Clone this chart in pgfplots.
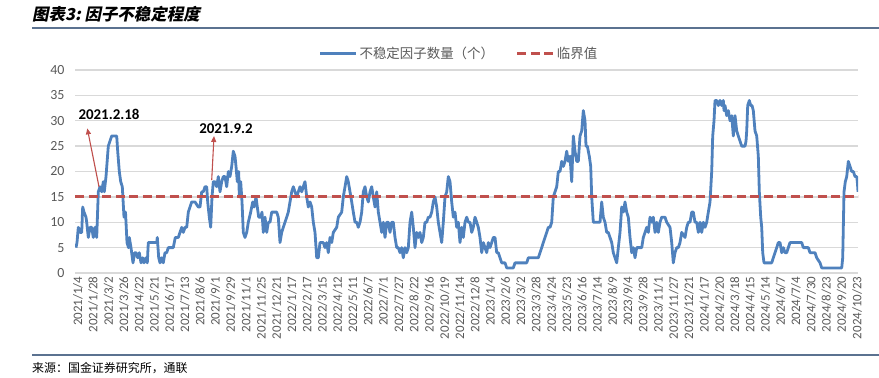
\documentclass[border=0pt]{standalone}
\usepackage{pgfplots}
\pgfplotsset{compat=1.18}
\usetikzlibrary{arrows.meta}
\usepackage{fontspec}
\setmainfont{Carlito}
\newfontfamily\cjk{Noto Sans CJK SC}
\newfontfamily\cjktitle{Noto Sans CJK SC}[FakeSlant=0.2]
\definecolor{lineblue}{HTML}{4F81BD}
\definecolor{linered}{HTML}{C0504D}
\definecolor{gridgrey}{HTML}{D9D9D9}
\definecolor{ticktext}{HTML}{595959}
\definecolor{rulecol}{HTML}{5B7290}
\begin{document}
\begin{tikzpicture}[x=1bp,y=1bp]
\path[use as bounding box] (0,0) rectangle (879,377);
\node[anchor=west, inner sep=0] at (32,363) {\cjktitle\bfseries\fontsize{16.5}{16.5}\selectfont 图表3:\ 因子不稳定程度};
\draw[rulecol, line width=1.3bp] (32,349) -- (879,349);
\draw[rulecol, line width=1.3bp] (32,22) -- (879,22);
\node[anchor=west, inner sep=0] at (32,9) {\cjk\fontsize{12}{12}\selectfont 来源：国金证券研究所，通联};
\begin{axis}[
  at={(75bp,104bp)}, anchor=south west,
  scale only axis, width=783bp, height=203bp,
  xmin=75, xmax=858, ymin=0, ymax=40,
  ytick={0,5,...,40},
  xtick={76,91.275,...,856},
  xticklabels={2021/1/4,2021/1/28,2021/3/2,2021/3/26,2021/4/22,2021/5/21,2021/6/17,2021/7/13,2021/8/6,2021/9/1,2021/9/29,2021/11/1,2021/11/25,2021/12/21,2022/1/17,2022/2/17,2022/3/15,2022/4/12,2022/5/11,2022/6/7,2022/7/1,2022/7/27,2022/8/22,2022/9/16,2022/10/19,2022/11/14,2022/12/8,2023/1/4,2023/2/6,2023/3/2,2023/3/28,2023/4/24,2023/5/23,2023/6/16,2023/7/14,2023/8/9,2023/9/4,2023/9/28,2023/11/1,2023/11/27,2023/12/21,2024/1/17,2024/2/20,2024/3/18,2024/4/15,2024/5/14,2024/6/7,2024/7/4,2024/7/30,2024/8/23,2024/9/20,2024/10/23},
  x tick label style={rotate=90, anchor=east, font=\fontsize{13}{13}\selectfont, text=ticktext, yshift=-2bp},
  y tick label style={font=\fontsize{14}{14}\selectfont, text=ticktext, xshift=-7bp},
  /pgf/number format/assume math mode=true,
  ymajorgrids, grid style={gridgrey, line width=1.3bp},
  axis line style={draw=none},
  tick style={draw=none},
  major tick length=0pt,
  legend columns=2,
  legend style={at={(0.4904,1)}, anchor=south, yshift=8bp, draw=none, fill=none, inner sep=0pt,
    font=\cjk\fontsize{13.5}{13.5}\selectfont, text=ticktext,
    /tikz/every even column/.append style={column sep=20bp}},
  legend image code/.code={\draw[#1] (0bp,0bp) -- (36bp,0bp);},
]
\addplot[lineblue, line width=2.8bp, line join=round] coordinates {
(76,5) (77,6) (78.3,9) (80,8) (81.7,8) (82.7,13) (84,12) (86,11) (86.7,10) (88.3,7) (90,9) (91.7,9) (93.3,7) (95,9) (96,8) (96.7,7) (98.3,16) (100,17) (101.7,16) (103.3,18) (104.3,16) (106,19) (108.3,25) (110,26) (111.7,27) (116.7,27) (117.7,24) (119.3,20) (120.7,18) (122.3,17) (124,11) (125.5,12) (127,6) (128.5,5) (129.3,7) (131,5) (133,2) (134.7,4) (136,4) (137.7,3) (139.3,4) (141,2) (142.7,3) (144,2) (146,3) (147.3,2) (148.3,6) (150,6) (153.3,6) (156.7,6) (157.3,7) (158.7,3) (160,2) (161.7,3) (163.3,2) (165,4) (166.7,4) (168.3,5) (170,5) (171.7,5) (173.3,5) (175.3,7) (178.3,7) (180,8) (181.7,9) (183.3,8) (185,9) (186.7,9) (188.3,12) (190,13) (191.7,14) (195,14) (198.3,13) (200,13) (201.7,16) (203.3,16) (205,17) (206.7,17) (207.7,14) (209.3,11) (210.7,9) (212,15) (213.3,18) (215,18) (216.7,17) (218.3,19) (220,16) (221.7,18) (223.3,19) (225,19) (226.7,17) (228.3,20) (230,19) (231.7,21) (233.3,24)
(235,23) (236,21) (237.3,18) (238.7,20) (239.3,15) (240.7,18) (242,14) (243.3,8) (245,7) (246.7,8) (248.3,10) (250.7,12) (252.7,14) (254,13) (256,15) (257.3,13) (258.7,11) (260.7,11) (262,12) (263.3,8) (265,11) (266.7,8) (268.3,10) (270,10) (271.7,12) (273.3,12) (276.7,12) (278.3,11) (280,6) (281.7,8) (283.3,9) (285,10) (286.7,11) (288.3,12) (290,14) (291.7,16) (293.3,17) (295,16) (296.7,15) (298.3,16) (300,17) (301.7,16) (303.3,17) (305,18) (306.7,15) (308.3,13) (310,14) (311.7,13) (313.3,10) (315,8) (316.7,3) (318.3,3) (320,6) (323.3,6) (325,5) (326.7,6) (328.3,4) (330,7) (331.7,6) (333.3,8) (336.7,9) (338.3,11) (341.7,12) (343.3,15) (345,17) (346.7,19) (348.3,18) (350,16) (351.7,14) (353.3,12) (355,10) (356.7,10) (358.3,9) (360,10) (361.7,12) (363.3,16) (365,17) (366.7,15) (368.3,14) (370,16) (371.7,17) (373.3,15) (375,13) (376.7,16) (378.3,12) (380,10) (381.7,8) (383.3,10) (385,7) (386.7,10) (388.3,10) (390,8) (391.7,10) (393.3,10)
(395,7) (396.7,5) (398.3,5) (400,4) (401.7,5) (403.3,3) (405,5) (406.7,4) (408.3,5) (410,10) (411.7,12) (413.3,9) (415,5) (416.7,8) (418.3,7) (420,8) (421.7,6) (423.3,7) (425,10) (426.7,10) (428.3,11) (430,11) (431.7,12) (433.3,14) (435,15) (436.7,13) (438.3,10) (440,8) (441.7,6) (443.3,10) (445,15) (446.7,16) (448.3,19) (450,18) (451.7,14) (453.3,11) (455,12) (456.7,9) (458.3,10) (460,6) (461.7,9) (463.3,7) (465,10) (466.7,11) (468.3,10) (470,10) (471.7,8) (473.3,9) (475,11) (476.7,10) (478.3,9) (480,7) (481.7,4) (483.3,6) (485,5) (486.7,4) (488.3,6) (490,5) (491.7,6) (493.3,7) (495,7) (496.7,4) (498.3,4) (500,3) (501.7,2) (505,2) (506.7,1) (513.3,1) (515,2) (526.7,2) (528.3,3) (538.3,3) (540,4) (541.7,5) (543.3,6) (545,7) (546.7,8) (548.3,9) (550,9) (551.7,10) (553.3,15)
(555,16) (556.7,17) (558.3,20) (560,20) (561.7,22) (563.3,21) (565,22) (566.7,24) (568.3,22) (570,23) (571.7,18) (573.3,27) (575,24) (576.7,22) (578.3,22) (580,27) (581.7,28) (583.3,32) (585,30) (586,25) (587.3,25) (589.3,23) (590.7,21) (591.7,15) (593.3,10) (596.7,10) (600,10) (601.7,14) (603.3,11) (605,10) (606.7,8) (608.3,8) (610,7) (611.7,6) (613.3,4) (615,3) (616.7,2) (618.3,5) (620,8) (621.7,13) (623.3,12) (625,14) (626.7,12) (628.3,11) (630,7) (631.7,4) (633.3,5) (635,3) (636.7,5) (641.7,5) (643.3,7) (645,8) (646.7,9) (648.3,8) (650,11) (651.7,10) (653.3,11) (655,8) (656.7,10) (658.3,8) (660,10) (661.7,11) (665,11) (666.7,10) (670,9) (671.7,6) (673.3,2) (675,4) (676.7,5) (678.3,5) (680,6) (681.7,8) (685,7) (686.7,9) (688.3,10) (690,10) (691.7,12) (693.3,12) (695,10) (696.7,10) (698.3,8) (700,10)
(701.7,8) (703.3,10) (705,9) (706.7,10) (708.3,12) (710,14) (711.7,20) (712.7,27) (714,30) (715,34) (716.7,34) (718.3,33) (720,34) (721.7,33) (723.3,34) (724,32) (725,33) (726.7,31) (728.3,32) (730,30) (731.7,31) (733.3,27) (735,31) (736.7,28) (738.3,27) (740,26) (741.7,25) (745,25) (746,26) (746.7,28) (747.7,33) (749.3,34) (750.7,33) (752,33) (753.3,32) (755,28) (756.7,27) (758.3,23) (759.3,16) (760.7,11) (761.7,9) (762.7,4) (764,2) (771.7,2) (773.3,3) (775,4) (776.7,5) (778.3,6) (780,6) (781.7,4) (783.3,5) (785,4) (786.7,4) (788.3,5) (790,6) (801.7,6) (803.3,5) (808.3,5) (810,4) (815,4) (816.7,3) (820,2) (821.7,1) (841.7,1) (842.7,3) (844,16) (845.3,18) (846.7,19) (848.3,22) (850,21) (851.7,20) (853.3,20) (855,19) (856.7,19) (857.3,18) (858,16)
};
\addlegendentry{不稳定因子数量（个）}
\addplot[linered, line width=2.8bp, dash pattern=on 9bp off 4.5bp] coordinates {(75,15) (858,15)};
\addlegendentry{临界值}
\draw[linered, line width=1.1bp, -{Triangle[length=6bp,width=5bp]}] (axis cs:99,17) -- (axis cs:87.3,28.5);
\draw[linered, line width=1.1bp, -{Triangle[length=6bp,width=5bp]}] (axis cs:211.7,18.3) -- (axis cs:214,27);
\node[font=\bfseries\fontsize{15}{15}\selectfont, anchor=center, inner sep=0] at (axis cs:109,31.2) {2021.2.18};
\node[font=\bfseries\fontsize{15}{15}\selectfont, anchor=center, inner sep=0] at (axis cs:226,28.4) {2021.9.2};
\end{axis}
\end{tikzpicture}
\end{document}
